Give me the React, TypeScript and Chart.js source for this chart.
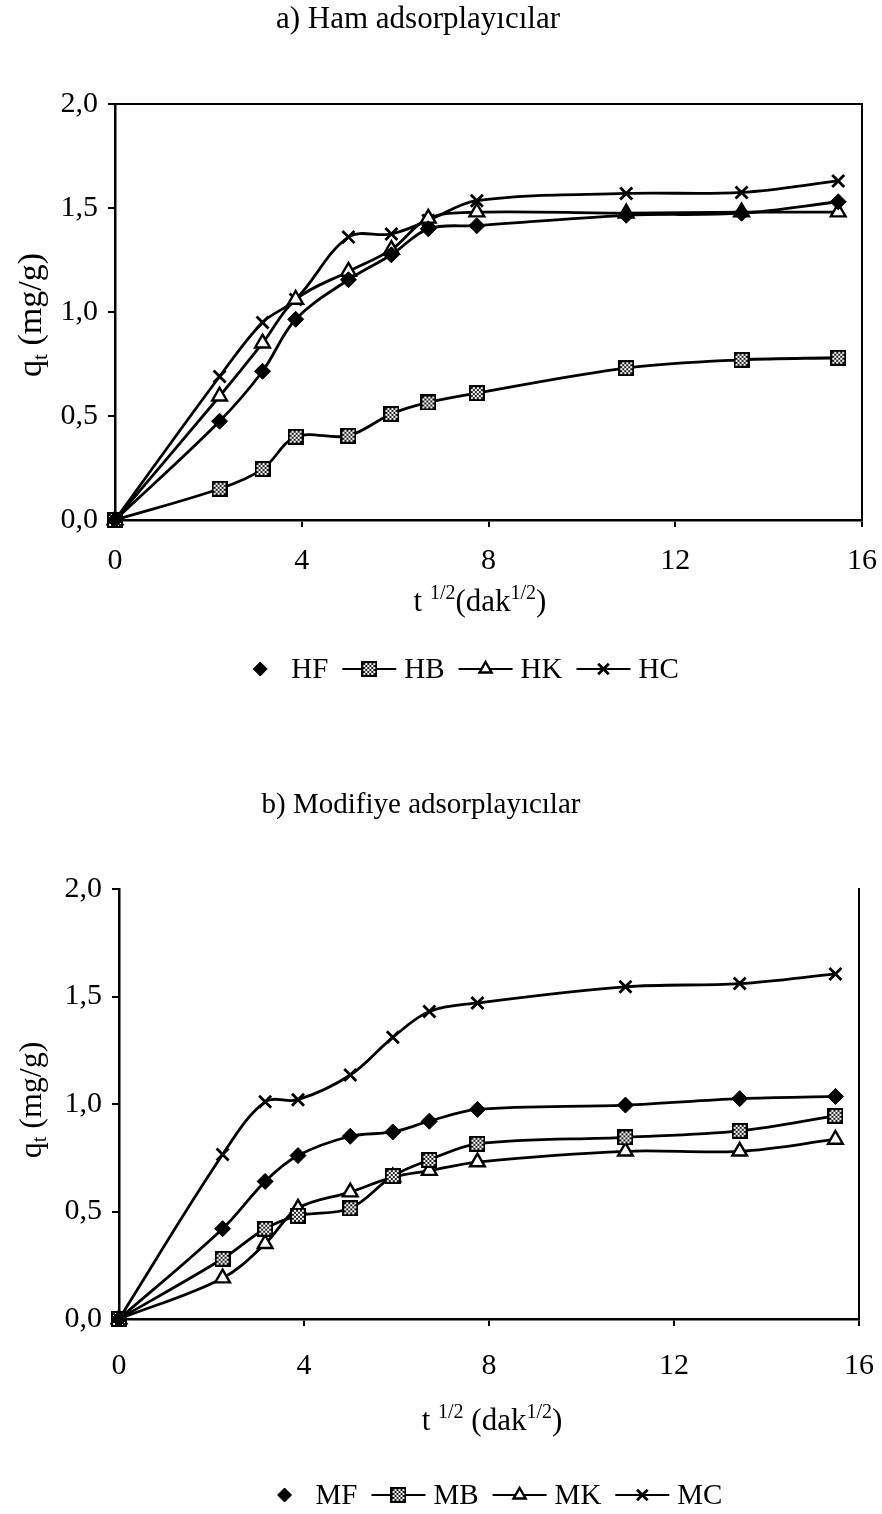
import React, { useEffect, useRef } from 'react';
import { Chart, registerables } from 'chart.js';
import { drawPoint } from 'chart.js/helpers';

Chart.register(...registerables);

// ---------------- data ----------------
const sqrtTime = [0, 2.24, 3.16, 3.87, 5.0, 5.92, 6.71, 7.75, 10.95, 13.42, 15.49];

const hamLabels = ['HF', 'HB', 'HK', 'HC'];
const hamHF = [0, 0.475, 0.715, 0.965, 1.155, 1.275, 1.40, 1.415, 1.465, 1.475, 1.53];
const hamHB = [0, 0.15, 0.245, 0.40, 0.405, 0.51, 0.565, 0.61, 0.73, 0.77, 0.78];
const hamHK = [0, 0.595, 0.85, 1.06, 1.195, 1.30, 1.45, 1.48, 1.475, 1.48, 1.48];
const hamHC = [0, 0.69, 0.95, 1.06, 1.36, 1.375, 1.44, 1.535, 1.57, 1.575, 1.63];

const modLabels = ['MF', 'MB', 'MK', 'MC'];
const modMF = [0, 0.42, 0.64, 0.76, 0.85, 0.87, 0.92, 0.975, 0.995, 1.025, 1.035];
const modMB = [0, 0.28, 0.42, 0.48, 0.515, 0.665, 0.74, 0.815, 0.845, 0.875, 0.945];
const modMK = [0, 0.19, 0.35, 0.515, 0.59, 0.66, 0.69, 0.73, 0.78, 0.78, 0.835];
const modMC = [0, 0.765, 1.01, 1.02, 1.135, 1.31, 1.43, 1.47, 1.545, 1.56, 1.605];

const xTickValues = [0, 4, 8, 12, 16];
const xTickLabels = ['0', '4', '8', '12', '16'];
const yTickValues = [0, 0.5, 1.0, 1.5, 2.0];
const yTickLabels = ['0,0', '0,5', '1,0', '1,5', '2,0'];

const titleA = 'a) Ham adsorplayıcılar';
const titleB = 'b) Modifiye adsorplayıcılar';

// ---------------- styling ----------------
const FONT = '"Liberation Serif", "Times New Roman", serif';
Chart.defaults.font.family = FONT;
Chart.defaults.color = '#000';

type Seg = { t: string; k?: 'sup' | 'sub' };

function makeCheckerMarker(size: number): HTMLCanvasElement {
  const c = document.createElement('canvas');
  c.width = size;
  c.height = size;
  const g = c.getContext('2d')!;
  g.fillStyle = '#fff';
  g.fillRect(0, 0, size, size);
  g.fillStyle = '#222';
  for (let i = 2; i < size - 2; i += 2) {
    for (let j = 2; j < size - 2; j += 2) {
      if (((i + j) / 2) % 2 === 0) g.fillRect(i, j, 2, 2);
    }
  }
  g.strokeStyle = '#000';
  g.lineWidth = 2.2;
  g.strokeRect(1, 1, size - 2, size - 2);
  return c;
}

function seriesStyles() {
  const checker = makeCheckerMarker(16);
  const common = {
    borderColor: '#000',
    borderWidth: 2.8,
    tension: 0.35,
    fill: false,
    clip: false as any,
    pointBorderColor: '#000',
  };
  return [
    { ...common, pointStyle: 'rectRot', pointRadius: 8, pointBackgroundColor: '#000', pointBorderWidth: 1, legendLine: false, legendRadius: 7 },
    { ...common, pointStyle: checker, pointRadius: 8, pointBackgroundColor: '#fff', pointBorderWidth: 2, legendLine: true, legendRadius: 7 },
    { ...common, pointStyle: 'triangle', pointRadius: 8.5, pointBackgroundColor: '#fff', pointBorderWidth: 2.4, legendLine: true, legendRadius: 7 },
    { ...common, pointStyle: 'crossRot', pointRadius: 8.5, pointBackgroundColor: '#000', pointBorderWidth: 2.8, legendLine: true, legendRadius: 7.5 },
  ];
}

function drawRich(ctx: CanvasRenderingContext2D, segs: Seg[], cx: number, cy: number, size: number) {
  const fontOf = (s: Seg) => `${s.k ? Math.round(size * 0.64) : size}px ${FONT}`;
  let total = 0;
  for (const s of segs) {
    ctx.font = fontOf(s);
    total += ctx.measureText(s.t).width;
  }
  let x = cx - total / 2;
  const base = cy + size * 0.33;
  ctx.textAlign = 'left';
  ctx.textBaseline = 'alphabetic';
  for (const s of segs) {
    ctx.font = fontOf(s);
    const y = s.k === 'sup' ? base - size * 0.4 : s.k === 'sub' ? base + size * 0.18 : base;
    ctx.fillText(s.t, x, y);
    x += ctx.measureText(s.t).width;
  }
}

const decorPlugin = {
  id: 'decor',
  afterDraw(chart: any, _args: any, o: any) {
    const ctx: CanvasRenderingContext2D = chart.ctx;
    ctx.save();
    ctx.fillStyle = '#000';
    // chart title
    ctx.font = `${o.titleSize}px ${FONT}`;
    ctx.textAlign = 'center';
    ctx.textBaseline = 'middle';
    ctx.fillText(o.title, o.titleX, o.titleY);
    // x axis title
    drawRich(ctx, o.xTitle, o.xTitleX, o.xTitleY, o.xTitleSize);
    // y axis title
    ctx.save();
    ctx.translate(o.yTitleX, o.yTitleY);
    ctx.rotate(-Math.PI / 2);
    drawRich(ctx, o.yTitle, 0, 0, o.yTitleSize);
    ctx.restore();
    // legend
    const datasets = chart.data.datasets;
    const symW = 54;
    const dotW = 14;
    ctx.font = `${o.legendSize}px ${FONT}`;
    const widths = datasets.map((d: any, i: number) => {
      const sw = d.legendLine ? symW : dotW;
      const gap = d.legendLine ? 8 : 24;
      const tw = ctx.measureText(d.label).width;
      return sw + gap + tw + (i < datasets.length - 1 ? 14 : 0);
    });
    const total = widths.reduce((a: number, b: number) => a + b, 0);
    let x = o.legendX - total / 2;
    const y = o.legendY;
    datasets.forEach((d: any, i: number) => {
      const sw = d.legendLine ? symW : dotW;
      const gap = d.legendLine ? 8 : 24;
      if (d.legendLine) {
        ctx.strokeStyle = '#000';
        ctx.lineWidth = 2;
        ctx.beginPath();
        ctx.moveTo(x, y);
        ctx.lineTo(x + sw, y);
        ctx.stroke();
      }
      ctx.fillStyle = d.pointBackgroundColor;
      ctx.strokeStyle = '#000';
      ctx.lineWidth = d.pointBorderWidth;
      drawPoint(ctx, { pointStyle: d.pointStyle, rotation: 0, radius: d.legendRadius, borderWidth: d.pointBorderWidth } as any, x + sw / 2, y);
      ctx.fillStyle = '#000';
      ctx.font = `${o.legendSize}px ${FONT}`;
      ctx.textAlign = 'left';
      ctx.textBaseline = 'middle';
      ctx.fillText(d.label, x + sw + gap, y + 1);
      x += widths[i];
    });
    ctx.restore();
  },
};

interface Panel {
  labels: string[];
  values: number[][];
  frameTop: boolean;
  padding: { top: number; right: number; bottom: number };
  yWidth: number;
  xTickPad: number;
  decor: any;
}

function buildConfig(p: Panel) {
  const styles = seriesStyles();
  const tickFont = { family: FONT, size: 30 };
  const axisLine = { display: true, color: '#000', width: 2.5 };
  return {
    type: 'line',
    data: {
      datasets: p.labels.map((label, i) => ({
        label,
        data: sqrtTime.map((xv, j) => ({ x: xv, y: p.values[i][j] })),
        ...styles[i],
      })),
    },
    options: {
      animation: false,
      responsive: false,
      events: [],
      layout: { padding: { left: 0, top: p.padding.top, right: p.padding.right, bottom: p.padding.bottom } },
      plugins: {
        legend: { display: false },
        tooltip: { enabled: false },
        title: { display: false },
        decor: p.decor,
      },
      scales: {
        x: {
          type: 'linear',
          position: 'bottom',
          min: xTickValues[0],
          max: xTickValues[xTickValues.length - 1],
          afterBuildTicks: (s: any) => { s.ticks = xTickValues.map((v) => ({ value: v })); },
          ticks: {
            font: tickFont,
            color: '#000',
            padding: p.xTickPad,
            maxRotation: 0,
            callback: (v: number) => xTickLabels[xTickValues.indexOf(v)] ?? '',
          },
          grid: { display: true, drawOnChartArea: false, drawTicks: true, tickLength: 7, color: '#000', lineWidth: 2 },
          border: axisLine,
          afterFit: (s: any) => { s.height = 70; s.paddingLeft = 0; s.paddingRight = 0; },
        },
        y: {
          type: 'linear',
          position: 'left',
          min: yTickValues[0],
          max: yTickValues[yTickValues.length - 1],
          afterBuildTicks: (s: any) => { s.ticks = yTickValues.map((v) => ({ value: v })); },
          ticks: {
            font: tickFont,
            color: '#000',
            padding: 10,
            callback: (v: number) => yTickLabels[yTickValues.indexOf(v)] ?? '',
          },
          grid: { display: true, drawOnChartArea: false, drawTicks: true, tickLength: 7, color: '#000', lineWidth: 2 },
          border: axisLine,
          afterFit: (s: any) => { s.width = p.yWidth; s.paddingTop = 0; s.paddingBottom = 0; },
        },
        xTop: {
          type: 'linear',
          position: 'top',
          display: p.frameTop,
          min: 0,
          max: 16,
          ticks: { display: false },
          grid: { display: false },
          border: { display: true, color: '#000', width: 2 },
          afterFit: (s: any) => { s.height = 0; s.paddingLeft = 0; s.paddingRight = 0; },
        },
        yRight: {
          type: 'linear',
          position: 'right',
          min: 0,
          max: 2,
          ticks: { display: false },
          grid: { display: false },
          border: { display: true, color: '#000', width: 2 },
          afterFit: (s: any) => { s.width = 0; s.paddingTop = 0; s.paddingBottom = 0; },
        },
      },
    },
    plugins: [decorPlugin],
  } as any;
}

const xTitleSegsA: Seg[] = [{ t: 't ' }, { t: '1/2', k: 'sup' }, { t: '(dak' }, { t: '1/2', k: 'sup' }, { t: ')' }];
const xTitleSegsB: Seg[] = [{ t: 't ' }, { t: '1/2', k: 'sup' }, { t: ' (dak' }, { t: '1/2', k: 'sup' }, { t: ')' }];
const yTitleSegs: Seg[] = [{ t: 'q' }, { t: 't', k: 'sub' }, { t: ' (mg/g)' }];

function ChartBox({ top, height, panel }: { top: number; height: number; panel: Panel }) {
  const ref = useRef<HTMLCanvasElement | null>(null);
  useEffect(() => {
    if (!ref.current) return;
    const chart = new Chart(ref.current, buildConfig(panel));
    return () => chart.destroy();
  }, []);
  return (
    <div style={{ position: 'absolute', left: 0, top, width: 882, height }}>
      <canvas ref={ref} width={882} height={height} style={{ display: 'block' }} />
    </div>
  );
}

const panelA: Panel = {
  labels: hamLabels,
  values: [hamHF, hamHB, hamHK, hamHC],
  frameTop: true,
  padding: { top: 104, right: 20, bottom: 140 },
  yWidth: 115,
  xTickPad: 16,
  decor: {
    title: titleA, titleX: 418, titleY: 20, titleSize: 31,
    xTitle: xTitleSegsA, xTitleX: 480, xTitleY: 601, xTitleSize: 31,
    yTitle: yTitleSegs, yTitleX: 30, yTitleY: 315, yTitleSize: 34,
    legendX: 466, legendY: 669, legendSize: 29,
  },
};

const panelB: Panel = {
  labels: modLabels,
  values: [modMF, modMB, modMK, modMC],
  frameTop: false,
  padding: { top: 149, right: 23, bottom: 125 },
  yWidth: 119,
  xTickPad: 22,
  decor: {
    title: titleB, titleX: 421, titleY: 65, titleSize: 29,
    xTitle: xTitleSegsB, xTitleX: 492, xTitleY: 680, xTitleSize: 31,
    yTitle: yTitleSegs, yTitleX: 30, yTitleY: 360, yTitleSize: 32,
    legendX: 500, legendY: 755, legendSize: 29,
  },
};

export default function App() {
  return (
    <div style={{ position: 'absolute', left: 0, top: 0, width: 882, height: 1514, background: '#fff', overflow: 'hidden' }}>
      <ChartBox top={0} height={730} panel={panelA} />
      <ChartBox top={740} height={774} panel={panelB} />
    </div>
  );
}
